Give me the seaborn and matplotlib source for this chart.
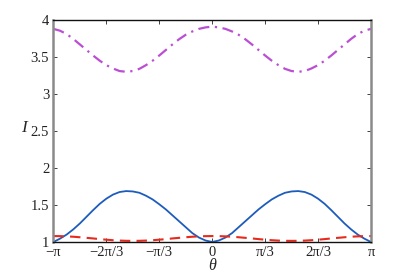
import numpy as np
import pandas as pd
import matplotlib
matplotlib.use("Agg")
import matplotlib.pyplot as plt
import seaborn as sns

# angles in degrees (step 7.5)
theta_deg = [-180, -172.5, -165, -157.5, -150, -142.5, -135, -127.5, -120, -112.5, -105, -97.5,
             -90, -82.5, -75, -67.5, -60, -52.5, -45, -37.5, -30, -22.5, -15, -7.5,
             0, 7.5, 15, 22.5, 30, 37.5, 45, 52.5, 60, 67.5, 75, 82.5,
             90, 97.5, 105, 112.5, 120, 127.5, 135, 142.5, 150, 157.5, 165, 172.5, 180]
blue_vals = [1.00, 1.045, 1.10, 1.17, 1.25, 1.34, 1.43, 1.515, 1.585, 1.64, 1.675, 1.688,
             1.683, 1.665, 1.625, 1.575, 1.51, 1.44, 1.36, 1.28, 1.20, 1.12, 1.06, 1.02,
             1.00, 1.02, 1.06, 1.12, 1.20, 1.28, 1.36, 1.44, 1.51, 1.575, 1.625, 1.665,
             1.683, 1.688, 1.675, 1.64, 1.585, 1.515, 1.43, 1.34, 1.25, 1.17, 1.10, 1.045, 1.00]
red_vals = [1.080, 1.079, 1.076, 1.071, 1.064, 1.056, 1.048, 1.039, 1.031, 1.024, 1.019, 1.016,
            1.015, 1.016, 1.019, 1.024, 1.031, 1.039, 1.048, 1.056, 1.064, 1.071, 1.076, 1.079,
            1.080, 1.079, 1.076, 1.071, 1.064, 1.056, 1.048, 1.039, 1.031, 1.024, 1.019, 1.016,
            1.015, 1.016, 1.019, 1.024, 1.031, 1.039, 1.048, 1.056, 1.064, 1.071, 1.076, 1.079, 1.080]
magenta_vals = [3.88, 3.855, 3.81, 3.745, 3.67, 3.595, 3.52, 3.45, 3.39, 3.345, 3.31, 3.30,
                3.31, 3.34, 3.39, 3.45, 3.52, 3.595, 3.67, 3.74, 3.80, 3.845, 3.88, 3.90,
                3.91, 3.90, 3.88, 3.845, 3.80, 3.74, 3.67, 3.595, 3.52, 3.45, 3.39, 3.34,
                3.31, 3.30, 3.31, 3.345, 3.39, 3.45, 3.52, 3.595, 3.67, 3.745, 3.81, 3.855, 3.88]

xtick_labels = ["\u2212\u03c0", "\u22122\u03c0/3", "\u2212\u03c0/3", "0", "\u03c0/3", "2\u03c0/3", "\u03c0"]
ytick_vals = [1, 1.5, 2, 2.5, 3, 3.5, 4]
ytick_labels = ["1", "1.5", "2", "2.5", "3", "3.5", "4"]

sns.set_style("ticks")
plt.rcParams["font.family"] = ["Liberation Serif", "DejaVu Serif"]
plt.rcParams["axes.unicode_minus"] = True

theta = np.deg2rad(theta_deg)
df = pd.DataFrame({"theta": theta, "blue": blue_vals, "red": red_vals, "magenta": magenta_vals})

fig = plt.figure(figsize=(4.09, 2.73), dpi=100)
ax = fig.add_axes([0.1305, 0.1136, 0.7766, 0.8132])

sns.lineplot(data=df, x="theta", y="magenta", ax=ax, color="#bb4fd3", lw=1.6,
             linestyle=(0, (5, 2.5, 1, 2.5)))
sns.lineplot(data=df, x="theta", y="blue", ax=ax, color="#1d5cbd", lw=1.3)
sns.lineplot(data=df, x="theta", y="red", ax=ax, color="#e8291c", lw=1.5,
             linestyle=(0, (5, 3)))

tick_font = dict(family="Liberation Serif", size=10.5)
ax.set_xlim(-np.pi, np.pi)
ax.set_ylim(1, 4)
ax.set_xticks(np.linspace(-np.pi, np.pi, 7))
ax.set_xticklabels(xtick_labels, fontdict=tick_font)
ax.set_yticks(ytick_vals)
ax.set_yticklabels(ytick_labels, fontdict=tick_font)
ax.tick_params(direction="in", length=3, width=0.6, top=True, right=True, colors="#222222")
ax.tick_params(axis="x", pad=3)
ax.tick_params(axis="y", pad=3)
ax.set_xlabel("")
ax.set_ylabel("")
for s in ["top", "bottom"]:
    ax.spines[s].set_color("#111111")
    ax.spines[s].set_linewidth(1.0)
for s in ["left", "right"]:
    ax.spines[s].set_color("#8a8a8a")
    ax.spines[s].set_linewidth(1.8)

fig.text(24 / 409, 1 - 128 / 273, "I", fontsize=12.5, style="italic", family="Liberation Serif",
         ha="center", va="center")
fig.text(212 / 409, 1 - 270 / 273, "\u03b8", fontsize=11.5, style="italic", family="Liberation Serif",
         ha="center", va="baseline")

fig.savefig("out.png", dpi=100)
